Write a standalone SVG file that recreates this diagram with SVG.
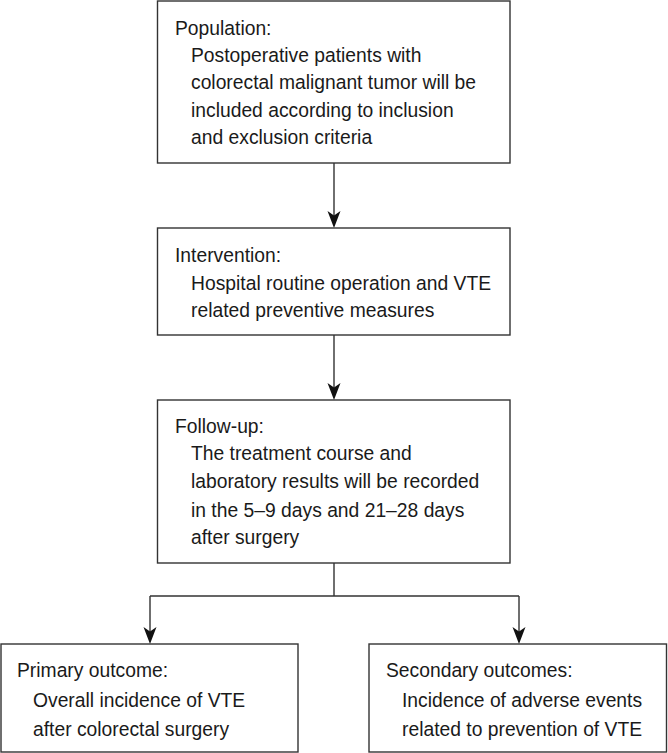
<svg xmlns="http://www.w3.org/2000/svg" width="668" height="753" viewBox="0 0 668 753">
<style>
.box{fill:#fff;stroke:#333;stroke-width:1.4}
.t{font-family:"Liberation Sans",Arial,sans-serif;font-size:19.3px;fill:#1a1a1a}
.ln{fill:none;stroke:#333;stroke-width:1.4}
.ah{fill:#111}
</style>
<defs>
<path id="arr" d="M0,0 L-6.5,-17 L0,-12.5 L6.5,-17 Z"/>
</defs>
<rect width="668" height="753" fill="#fff"/>
<g id="connectors">
<path class="ln" d="M334,163 V222"/>
<use href="#arr" class="ah" x="334" y="228"/>
<path class="ln" d="M334,335 V394"/>
<use href="#arr" class="ah" x="334" y="400"/>
<path class="ln" d="M334,563 V596 M150,596 H519 M150,596 V638 M519,596 V638"/>
<use href="#arr" class="ah" x="150" y="644"/>
<use href="#arr" class="ah" x="519" y="644"/>
</g>
<g id="population">
<rect class="box" x="157.5" y="1" width="352.5" height="162"/>
<text class="t" x="175" y="35">Population:</text>
<text class="t" x="191" y="62">Postoperative patients with</text>
<text class="t" x="191" y="89">colorectal malignant tumor will be</text>
<text class="t" x="191" y="117">included according to inclusion</text>
<text class="t" x="191" y="144">and exclusion criteria</text>
</g>
<g id="intervention">
<rect class="box" x="157.5" y="228" width="352.5" height="107"/>
<text class="t" x="175" y="262">Intervention:</text>
<text class="t" x="191" y="290">Hospital routine operation and VTE</text>
<text class="t" x="191" y="317">related preventive measures</text>
</g>
<g id="followup">
<rect class="box" x="157.5" y="400" width="352.5" height="163"/>
<text class="t" x="175" y="433">Follow-up:</text>
<text class="t" x="191" y="460">The treatment course and</text>
<text class="t" x="191" y="488">laboratory results will be recorded</text>
<text class="t" x="191" y="517">in the 5–9 days and 21–28 days</text>
<text class="t" x="191" y="544">after surgery</text>
</g>
<g id="primary">
<rect class="box" x="1" y="644" width="297" height="108"/>
<text class="t" x="17" y="677">Primary outcome:</text>
<text class="t" x="33" y="707">Overall incidence of VTE</text>
<text class="t" x="33" y="736">after colorectal surgery</text>
</g>
<g id="secondary">
<rect class="box" x="369" y="644" width="297.5" height="108"/>
<text class="t" x="386" y="677">Secondary outcomes:</text>
<text class="t" x="402" y="707">Incidence of adverse events</text>
<text class="t" x="402" y="736">related to prevention of VTE</text>
</g>
</svg>
